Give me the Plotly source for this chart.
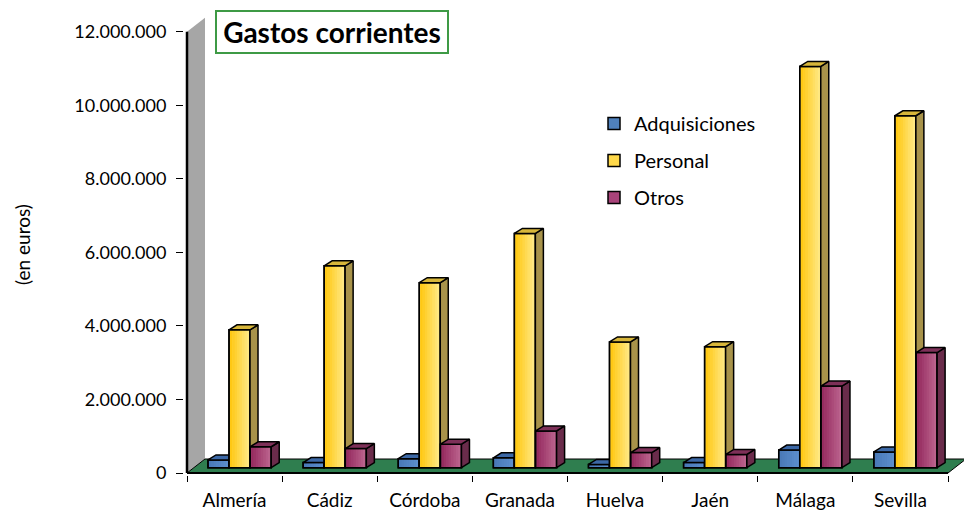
import plotly.graph_objects as go

# ---------------- data ----------------
categories = ["Almería", "Cádiz", "Córdoba", "Granada", "Huelva", "Jaén", "Málaga", "Sevilla"]
adquisiciones = [210000, 140000, 245000, 270000, 90000, 140000, 480000, 430000]
personal = [3750000, 5490000, 5030000, 6370000, 3420000, 3290000, 10910000, 9570000]
otros = [570000, 520000, 640000, 1000000, 410000, 360000, 2220000, 3130000]
series_names = ["Adquisiciones", "Personal", "Otros"]
y_ticks = [0, 2000000, 4000000, 6000000, 8000000, 10000000, 12000000]

# ---------------- geometry / style ----------------
FONT = "Lato"
W, H = 964, 511
ML, MR, MT, MB = 184, 0, 15, 36
plot_w = W - ML - MR
plot_h = H - MT - MB
PPU = 95.125            # px per category unit
PPM = 36.775 / 1e6      # px per euro
x_min = -0.5 - 3 / PPU
x_max = x_min + plot_w / PPU
y_min = -2 / PPM
y_max = y_min + plot_h / PPM

n = len(categories)
bar_w = 21 / PPU
offsets = [-0.169, 0.052, 0.275]
bar_base = 5.3 / PPM
bar_dx, bar_dy = 8 / PPU, 5 / PPM
floor_dx, floor_dy = 18 / PPU, 14 / PPM

front_cols = ["#4F81BD", "#FFD94A", "#A8437A"]
grad_left = [(74, 122, 184), (255, 200, 20), (150, 44, 96)]
grad_right = [(92, 142, 204), (255, 232, 130), (186, 98, 140)]
side_cols = ["#2E4E7A", "#A8934A", "#6A2C4B"]
top_cols = ["#3C68A6", "#D7B63A", "#7E3058"]
K = 8
line_px = 1.0 / PPU

fig = go.Figure()
all_series = [adquisiciones, personal, otros]
for s, vals in enumerate(all_series):
    sfx = "" if s == 0 else str(s + 1)
    xa, ya = "x" + sfx, "y" + sfx
    xs = list(range(n))
    left_off = offsets[s] - bar_w / 2
    # filled front face (legend entry)
    fig.add_trace(go.Bar(
        x=xs, y=vals, base=[bar_base] * n,
        width=bar_w, offset=left_off,
        marker=dict(color=front_cols[s], line=dict(color="black", width=1.5)),
        name=series_names[s], legendgroup=series_names[s],
        xaxis=xa, yaxis=ya, hoverinfo="skip"))
    # horizontal gradient strips
    inner_w = bar_w - 2 * line_px
    for j in range(K):
        f = j / (K - 1)
        c = tuple(round(grad_left[s][k] + (grad_right[s][k] - grad_left[s][k]) * f) for k in range(3))
        fig.add_trace(go.Bar(
            x=xs, y=vals, base=[bar_base] * n,
            width=inner_w / K + 0.2 / PPU, offset=left_off + line_px + j * inner_w / K,
            marker=dict(color=f"rgb{c}", line=dict(width=0)),
            showlegend=False, xaxis=xa, yaxis=ya, hoverinfo="skip"))
    # outline on top
    fig.add_trace(go.Bar(
        x=xs, y=vals, base=[bar_base] * n,
        width=bar_w, offset=left_off,
        marker=dict(color="rgba(0,0,0,0)", line=dict(color="black", width=1.5)),
        showlegend=False, xaxis=xa, yaxis=ya, hoverinfo="skip"))
    sx, sy, tx, ty = [], [], [], []
    for i, v in enumerate(vals):
        xl = i + left_off
        xr = xl + bar_w
        b = bar_base
        t = bar_base + v
        sx += [xr, xr + bar_dx, xr + bar_dx, xr, xr, None]
        sy += [b, b + bar_dy, t + bar_dy, t, b, None]
        tx += [xl, xl + bar_dx, xr + bar_dx, xr, xl, None]
        ty += [t, t + bar_dy, t + bar_dy, t, t, None]
    for px_, py_, col in ((sx, sy, side_cols[s]), (tx, ty, top_cols[s])):
        fig.add_trace(go.Scatter(
            x=px_, y=py_, mode="lines", fill="toself", fillcolor=col,
            line=dict(color="black", width=1.5), showlegend=False,
            xaxis=xa, yaxis=ya, hoverinfo="skip"))

# floor and wall
x0, x1 = -0.5, n - 0.5
floor_path = (f"M{x0},0 L{x1},0 L{x1 + floor_dx},{floor_dy} "
              f"L{x0 + floor_dx},{floor_dy} Z")
wall_path = (f"M{x0},0 L{x0 + floor_dx},{floor_dy} "
             f"L{x0 + floor_dx},{y_ticks[-1] + floor_dy} L{x0},{y_ticks[-1]} Z")
fig.add_shape(type="path", path=wall_path, fillcolor="#A6A6A6",
              line=dict(width=0), layer="below", xref="x", yref="y")
fig.add_shape(type="path", path=floor_path, fillcolor="#2F7E4F",
              line=dict(color="black", width=1), layer="below", xref="x", yref="y")
fig.add_shape(type="line", x0=x0, x1=x0, y0=0, y1=y_ticks[-1],
              line=dict(color="black", width=2.5), layer="below", xref="x", yref="y")
fig.add_shape(type="line", x0=x0, x1=x1, y0=0, y1=0,
              line=dict(color="black", width=2), layer="below", xref="x", yref="y")

axis_common = dict(showgrid=False, zeroline=False, showline=False)
fig.update_layout(
    width=W, height=H,
    margin=dict(l=ML, r=MR, t=MT, b=MB, autoexpand=False),
    paper_bgcolor="white", plot_bgcolor="white",
    font=dict(family=FONT, size=16, color="black"),
    separators=",.",
    showlegend=True,
    barmode="overlay",
    legend=dict(x=(594 - ML) / plot_w, y=(H - MB - 104) / plot_h,
                xanchor="left", yanchor="top", font=dict(size=20),
                bgcolor="rgba(0,0,0,0)", tracegroupgap=8, traceorder="grouped"),
    xaxis=dict(range=[x_min, x_max], tickvals=list(range(n)), ticktext=categories,
               ticks="outside", ticklen=8, tickcolor="rgba(0,0,0,0)",
               minor=dict(tickvals=[i - 0.5 for i in range(n + 1)], ticks="outside",
                          ticklen=6, tickcolor="black", tickwidth=1),
               tickfont=dict(size=19), **axis_common),
    yaxis=dict(range=[y_min, y_max], tickvals=y_ticks, tickformat=",d",
               ticks="outside", ticklen=7, tickcolor="black", tickwidth=1,
               ticklabelstandoff=6, tickfont=dict(size=18), **axis_common),
    xaxis2=dict(range=[x_min, x_max], overlaying="x", visible=False),
    yaxis2=dict(range=[y_min, y_max], overlaying="y", visible=False),
    xaxis3=dict(range=[x_min, x_max], overlaying="x", visible=False),
    yaxis3=dict(range=[y_min, y_max], overlaying="y", visible=False),
)

fig.add_annotation(
    text="<b>Gastos corrientes</b>", xref="paper", yref="paper",
    x=(332 - ML) / plot_w, y=(H - MB - 32) / plot_h, xanchor="center", yanchor="middle",
    showarrow=False, font=dict(size=28, family=FONT, color="black"),
    bordercolor="#3E9A45", borderwidth=2, bgcolor="white", width=228, height=38)
fig.add_annotation(
    text="(en euros)", xref="paper", yref="paper",
    x=(22 - ML) / plot_w, y=(H - MB - 245) / plot_h, xanchor="center", yanchor="middle",
    textangle=-90, showarrow=False, font=dict(size=19, family=FONT, color="black"))

fig.write_html("out.html", config={"displayModeBar": False},
               post_script="document.body.style.margin='0';document.body.style.padding='0';")
